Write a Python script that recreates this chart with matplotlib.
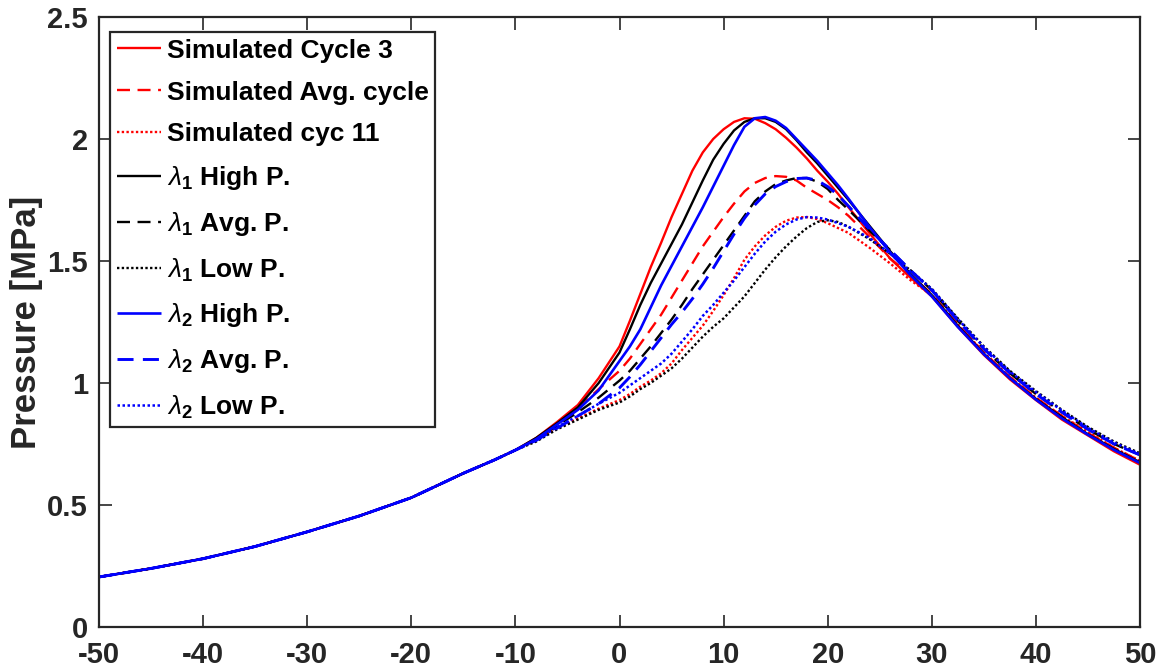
import matplotlib
matplotlib.use("Agg")
import matplotlib.pyplot as plt

plt.rcParams['font.family'] = ['Liberation Sans', 'DejaVu Sans']
plt.rcParams['mathtext.fontset'] = 'custom'
plt.rcParams['mathtext.rm'] = 'Liberation Sans:bold'
plt.rcParams['mathtext.it'] = 'Liberation Sans:italic'
plt.rcParams['mathtext.bf'] = 'Liberation Sans:bold'

# crank angle grid (shared by all series)
x = [-50, -45, -40, -35, -30, -25, -20, -15, -12, -10,
     -8, -6, -4, -2, 0, 1, 2, 3, 4, 5, 6, 7, 8, 9, 10, 11, 12, 13, 14, 15, 16, 17, 18, 19, 20, 21, 22,
     24, 26, 28, 30, 32.5, 35, 37.5, 40, 42.5, 45, 47.5, 50]

left = [0.205, 0.24, 0.28, 0.33, 0.39, 0.455, 0.53, 0.63, 0.685, 0.725]

sim_cycle3 = left + [0.775, 0.84, 0.91, 1.02, 1.15, 1.255, 1.365, 1.475, 1.575, 1.68, 1.775, 1.87, 1.945, 2.0,
                     2.04, 2.07, 2.085, 2.083, 2.065, 2.04, 2.005, 1.965, 1.92, 1.87, 1.825, 1.775, 1.72,
                     1.615, 1.51, 1.43, 1.355, 1.23, 1.115, 1.015, 0.93, 0.85, 0.785, 0.72, 0.665]
sim_avg = left + [0.77, 0.83, 0.895, 0.975, 1.05, 1.10, 1.16, 1.22, 1.28, 1.35, 1.42, 1.49, 1.56, 1.62,
                  1.68, 1.735, 1.785, 1.82, 1.84, 1.848, 1.845, 1.83, 1.80, 1.775, 1.75, 1.72, 1.685,
                  1.60, 1.51, 1.44, 1.365, 1.24, 1.125, 1.025, 0.94, 0.865, 0.795, 0.735, 0.68]
sim_cyc11 = left + [0.765, 0.815, 0.855, 0.895, 0.93, 0.955, 0.985, 1.01, 1.04, 1.08, 1.135, 1.185, 1.235, 1.295,
                    1.36, 1.43, 1.505, 1.56, 1.605, 1.64, 1.665, 1.678, 1.68, 1.672, 1.655, 1.635, 1.615,
                    1.555, 1.49, 1.42, 1.36, 1.24, 1.125, 1.025, 0.94, 0.865, 0.80, 0.735, 0.68]
l1_high = left + [0.775, 0.835, 0.90, 1.00, 1.125, 1.22, 1.32, 1.41, 1.49, 1.57, 1.65, 1.74, 1.83, 1.915,
                  1.98, 2.035, 2.07, 2.085, 2.085, 2.07, 2.04, 1.995, 1.945, 1.90, 1.85, 1.80, 1.75,
                  1.645, 1.54, 1.445, 1.36, 1.235, 1.12, 1.02, 0.935, 0.86, 0.79, 0.73, 0.675]
l1_avg = left + [0.77, 0.825, 0.88, 0.94, 1.01, 1.05, 1.10, 1.15, 1.205, 1.26, 1.32, 1.385, 1.445, 1.505,
                 1.565, 1.625, 1.685, 1.745, 1.785, 1.815, 1.83, 1.84, 1.84, 1.825, 1.795, 1.75, 1.71,
                 1.625, 1.545, 1.46, 1.38, 1.255, 1.14, 1.04, 0.955, 0.88, 0.81, 0.75, 0.705]
l1_low = left + [0.76, 0.81, 0.85, 0.89, 0.92, 0.945, 0.975, 1.0, 1.03, 1.06, 1.10, 1.145, 1.19, 1.23,
                 1.265, 1.31, 1.355, 1.41, 1.465, 1.515, 1.56, 1.60, 1.635, 1.66, 1.667, 1.66, 1.64,
                 1.59, 1.53, 1.46, 1.386, 1.265, 1.15, 1.05, 0.967, 0.89, 0.82, 0.76, 0.712]
l2_high = left + [0.77, 0.83, 0.89, 0.97, 1.09, 1.15, 1.22, 1.31, 1.40, 1.48, 1.56, 1.64, 1.72, 1.805,
                  1.89, 1.975, 2.05, 2.085, 2.09, 2.075, 2.045, 2.0, 1.955, 1.91, 1.86, 1.81, 1.755,
                  1.64, 1.535, 1.44, 1.355, 1.23, 1.118, 1.02, 0.932, 0.855, 0.788, 0.726, 0.672]
l2_avg = left + [0.765, 0.815, 0.865, 0.915, 0.98, 1.025, 1.075, 1.13, 1.185, 1.24, 1.29, 1.345, 1.405, 1.47,
                 1.54, 1.61, 1.675, 1.73, 1.775, 1.805, 1.825, 1.838, 1.84, 1.83, 1.805, 1.77, 1.725,
                 1.63, 1.545, 1.46, 1.38, 1.255, 1.14, 1.04, 0.955, 0.88, 0.81, 0.75, 0.705]
l2_low = left + [0.765, 0.82, 0.865, 0.915, 0.96, 0.99, 1.02, 1.05, 1.08, 1.12, 1.17, 1.22, 1.275, 1.32,
                 1.37, 1.42, 1.475, 1.53, 1.58, 1.62, 1.65, 1.67, 1.68, 1.678, 1.67, 1.655, 1.64,
                 1.595, 1.53, 1.455, 1.385, 1.262, 1.147, 1.047, 0.963, 0.887, 0.816, 0.756, 0.708]

labels = ['Simulated Cycle 3', 'Simulated Avg. cycle', 'Simulated cyc 11',
          r'$\lambda_1$ High P.', r'$\lambda_1$ Avg. P.', r'$\lambda_1$ Low P.',
          r'$\lambda_2$ High P.', r'$\lambda_2$ Avg. P.', r'$\lambda_2$ Low P.']
series = [sim_cycle3, sim_avg, sim_cyc11, l1_high, l1_avg, l1_low, l2_high, l2_avg, l2_low]

xticks = [-50, -40, -30, -20, -10, 0, 10, 20, 30, 40, 50]
yticks = [0, 0.5, 1, 1.5, 2, 2.5]
ytick_labels = ['0', '0.5', '1', '1.5', '2', '2.5']

colors = ['#ff0000'] * 3 + ['#000000'] * 3 + ['#0000ff'] * 3
styles = [(0, ()), (0, (5.5, 3.2)), (0, (1, 1))] * 3
widths = [1.7, 1.7, 1.7, 1.7, 1.7, 1.7, 1.9, 2.1, 1.8]

W, H = 1164, 668
fig = plt.figure(figsize=(W / 100, H / 100), dpi=100)
ax_l, ax_r, ax_t, ax_b = 99, 1140, 17, 627
ax = fig.add_axes([ax_l / W, (H - ax_b) / H, (ax_r - ax_l) / W, (ax_b - ax_t) / H])

for ys, lab, c, ls, lw in zip(series, labels, colors, styles, widths):
    ax.plot(x, ys, color=c, linestyle=ls, linewidth=lw, label=lab)

ax.set_xlim(-50, 50)
ax.set_ylim(0, 2.5)
ax.set_xticks(xticks)
ax.set_xticklabels([str(t) for t in xticks])
ax.set_yticks(yticks)
ax.set_yticklabels(ytick_labels)
ax.tick_params(direction='in', length=9, width=1.2, top=True, right=True,
               labelsize=21, colors='#262626')
ax.tick_params(axis='x', pad=10)
ax.tick_params(axis='y', pad=8)
for lab in ax.get_xticklabels() + ax.get_yticklabels():
    lab.set_fontweight('bold')
    lab.set_color('#262626')
for sp in ax.spines.values():
    sp.set_linewidth(1.6)
    sp.set_color('#262626')

ax.set_ylabel('Pressure [MPa]', fontsize=25, fontweight='bold', color='#262626', labelpad=3)

leg = ax.legend(loc='upper left', bbox_to_anchor=(110 / W, (H - 32) / H),
                bbox_transform=fig.transFigure, frameon=True, fancybox=False,
                edgecolor='#262626', framealpha=1, handlelength=1.7, handletextpad=0.2,
                labelspacing=0.68, borderpad=0.25, borderaxespad=0.0,
                prop={'weight': 'bold', 'size': 19})
leg.get_frame().set_linewidth(1.6)

fig.savefig('out.png', dpi=100)
